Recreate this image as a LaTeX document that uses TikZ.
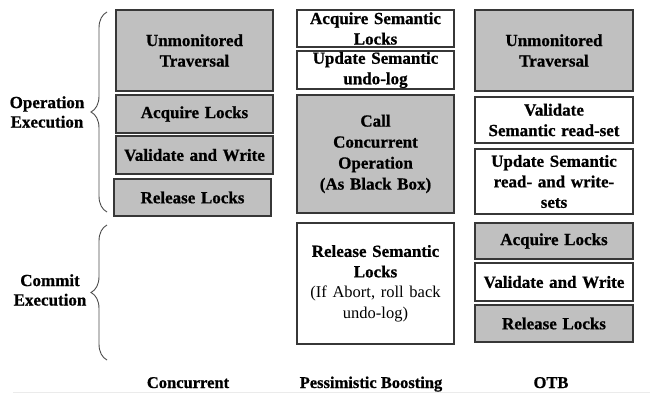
\documentclass[tikz,border=0pt]{standalone}
\usepackage{fontspec}
\setmainfont[BoldFeatures={FakeBold=0.8}]{Liberation Serif}
\usetikzlibrary{decorations.pathreplacing}
\definecolor{boxgray}{RGB}{192,192,192}
\definecolor{bordc}{RGB}{55,55,55}
\newcommand\subtxt{\normalfont\fontsize{16.5}{20.5}\selectfont}
\begin{document}
\begin{tikzpicture}[x=1pt,y=-1pt,
  box/.style={draw=bordc, line width=1.2pt, inner sep=1pt, align=center,
    font=\bfseries\fontsize{17}{20.5}\selectfont, text width=152pt},
  gbox/.style={box, fill=boxgray},
  wbox/.style={box, fill=white},
  side/.style={align=center, font=\bfseries\fontsize{17}{19.5}\selectfont},
  collbl/.style={anchor=base, font=\bfseries\fontsize{16.5}{20}\selectfont},
  brc/.style={draw=black!70, line width=0.9pt, decorate, decoration={brace, amplitude=16pt, aspect=0.5}}]
\useasboundingbox (0,0) rectangle (650,394);
% Concurrent column
\node[gbox, minimum width=157pt, minimum height=81pt] (c1a) at (194.5,50.5) {Unmonitored\\Traversal};
\node[gbox, minimum width=157pt, minimum height=38pt] (c1b) at (194.5,114) {Acquire Locks};
\node[gbox, minimum width=157pt, minimum height=38pt] (c1c) at (194.5,155) {Validate and Write};
\node[gbox, minimum width=157pt, minimum height=37pt] (c1d) at (192.5,197.5) {Release Locks};
% Pessimistic boosting column
\node[wbox, minimum width=157pt, minimum height=37pt] (c2a) at (375.5,28.5) {Acquire Semantic\\Locks};
\node[wbox, minimum width=157pt, minimum height=38pt] (c2b) at (375.5,70) {Update Semantic\\undo-log};
\node[gbox, minimum width=157pt, minimum height=118pt, font=\bfseries\fontsize{17}{21}\selectfont] (c2c) at (375.5,154) {Call\\Concurrent\\Operation\\(As Black Box)};
\node[wbox, minimum width=157pt, minimum height=121pt] (c2d) at (375.5,283.5) {Release Semantic\\Locks\\{\subtxt (If Abort, roll back}\\{\subtxt undo-log)}};
% OTB column
\node[gbox, minimum width=158pt, minimum height=81pt] (c3a) at (554,50.5) {Unmonitored\\Traversal};
\node[wbox, minimum width=158pt, minimum height=46pt] (c3b) at (554,120) {Validate\\Semantic read-set};
\node[wbox, minimum width=158pt, minimum height=65pt] (c3c) at (554,181.5) {Update Semantic\\read- and write-\\sets};
\node[gbox, minimum width=158pt, minimum height=36pt] (c3d) at (554,241) {Acquire Locks};
\node[wbox, minimum width=158pt, minimum height=38pt] (c3e) at (554,282) {Validate and Write};
\node[gbox, minimum width=158pt, minimum height=37pt] (c3f) at (554,323.5) {Release Locks};
% braces
\coordinate (b1s) at (107,212);
\coordinate (b1e) at (107,12);
\draw[brc] (b1s) -- (b1e);
\coordinate (b2s) at (107,360);
\coordinate (b2e) at (107,225);
\draw[brc] (b2s) -- (b2e);
\node[side] (opex) at (47,112) {Operation\\Execution};
\node[side] (cmex) at (50,290) {Commit\\Execution};
% column labels
\node[collbl] (l1) at (188,388) {Concurrent};
\node[collbl] (l2) at (371,388) {Pessimistic Boosting};
\node[collbl] (l3) at (551,388) {OTB};
% faint baseline
\coordinate (fl1) at (13,392);
\coordinate (fl2) at (650,392);
\draw[black!8, line width=0.8pt] (fl1) -- (fl2);
\end{tikzpicture}
\end{document}
